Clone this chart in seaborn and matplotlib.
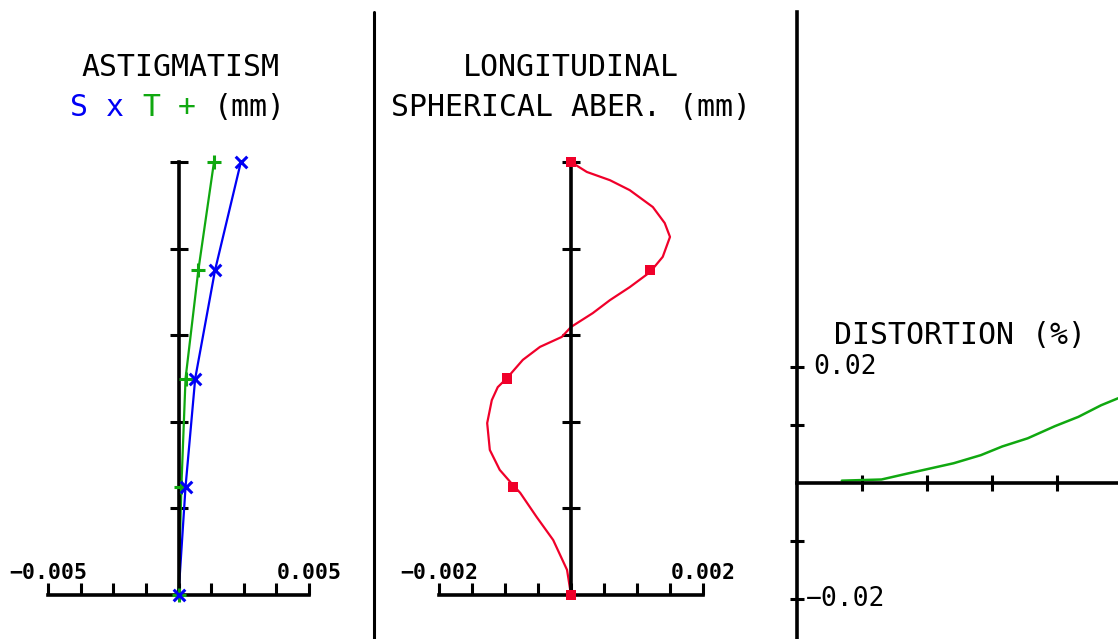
"""
Zemax style field curves: astigmatism, longitudinal spherical aberration, distortion
"""

import numpy as np
import matplotlib
matplotlib.use('Agg')
import matplotlib.pyplot as plt
from matplotlib.lines import Line2D
import seaborn as sns

W, H = 1118, 639

# Astigmatism: relative field vs focus shift (mm)
astig_field = [0.0, 0.25, 0.5, 0.75, 1.0]
astig_s = [0.0, 0.00027, 0.00064, 0.00140, 0.00239]
astig_t = [0.0, 0.00011, 0.00027, 0.00076, 0.00136]
astig_ticklabels = ['\u22120.005', '0.005']

# Longitudinal spherical aberration: relative pupil vs focus shift (mm)
sph_pupil = [0.0, 0.058, 0.127, 0.18, 0.236, 0.254, 0.289, 0.335, 0.397, 0.45,
             0.48, 0.501, 0.543, 0.573, 0.596, 0.619, 0.651, 0.681, 0.711,
             0.746, 0.781, 0.827, 0.859, 0.896, 0.935, 0.958, 0.977, 1.0]
sph_lsa = [0.0, -0.00006, -0.00027, -0.00052, -0.00077, -0.00088, -0.00108,
           -0.00123, -0.00127, -0.00120, -0.00111, -0.00097, -0.00073,
           -0.00047, -0.00014, 0.0, 0.00033, 0.00059, 0.00089, 0.00120,
           0.00139, 0.00150, 0.00142, 0.00124, 0.00089, 0.00059, 0.00024, 0.0]
sph_mark_pupil = [0.0, 0.25, 0.5, 0.75, 1.0]
sph_mark_lsa = [0.0, -0.00088, -0.00097, 0.00120, 0.0]
sph_ticklabels = ['\u22120.002', '0.002']

# Distortion (%) vs field
dist_field = [0.69, 1.30, 1.69, 2.05, 2.41, 2.83, 3.16, 3.55, 3.97, 4.33, 4.68, 4.94]
dist_pct = [0.0004, 0.0006, 0.0016, 0.0025, 0.0034, 0.0048, 0.0063, 0.0077,
            0.0098, 0.0114, 0.0134, 0.0146]
dist_ticklabels = ['0.02', '\u22120.02']

BLUE = '#0000f5'
GREEN = '#10a810'
RED = '#f0002a'
AX_LW = 2.6

sns.set_theme(style='white')
plt.rcParams['font.family'] = ['DejaVu Sans Mono', 'DejaVu Sans']
plt.rcParams['text.color'] = 'black'


def px_axes(fig, x0, y0, x1, y1):
    return fig.add_axes([x0 / W, 1 - y1 / H, (x1 - x0) / W, (y1 - y0) / H])


def px_text(fig, x, y, s, color='black', ha='center', size=21.5):
    fig.text(x / W, 1 - y / H, s, color=color, ha=ha, va='center', fontsize=size)


def style_aber_axes(ax, half, labels):
    ax.set_xlim(-half, half)
    ax.set_ylim(0, 1)
    for s in ['top', 'right']:
        ax.spines[s].set_visible(False)
    ax.spines['left'].set_position(('data', 0))
    for s in ['left', 'bottom']:
        ax.spines[s].set_linewidth(AX_LW)
        ax.spines[s].set_color('black')
    ax.set_xticks(np.linspace(-half, half, 9))
    ax.set_yticks([0.2, 0.4, 0.6, 0.8, 1.0])
    ax.tick_params(axis='y', direction='inout', length=13, width=2.2,
                   color='black', labelleft=False, left=True)
    ax.tick_params(axis='x', direction='in', length=9, width=2.2,
                   color='black', labelbottom=False, bottom=True)
    ax.set_xlabel('')
    ax.set_ylabel('')
    ax.patch.set_alpha(0)
    for x, lab in zip([-half, half], labels):
        ax.annotate(lab, xy=(x, 0), xytext=(0, 22), textcoords='offset pixels',
                    ha='center', va='center', fontsize=15.5, fontweight='bold')


fig = plt.figure(figsize=(W / 100, H / 100), dpi=100)

# Astigmatism
ax1 = px_axes(fig, 48, 162, 309, 595)
sns.lineplot(x=astig_t, y=astig_field, orient='y', estimator=None, ax=ax1,
             color=GREEN, lw=1.6, clip_on=False)
sns.lineplot(x=astig_s, y=astig_field, orient='y', estimator=None, ax=ax1,
             color=BLUE, lw=1.6, clip_on=False)
sns.scatterplot(x=astig_t, y=astig_field, marker='+', s=110, color=GREEN,
                linewidth=2.2, ax=ax1, clip_on=False, zorder=4)
sns.scatterplot(x=astig_s, y=astig_field, marker='x', s=70, color=BLUE,
                linewidth=2.2, ax=ax1, clip_on=False, zorder=4)
style_aber_axes(ax1, 0.005, astig_ticklabels)

# Longitudinal spherical aberration
ax2 = px_axes(fig, 439, 162, 703, 595)
sns.lineplot(x=sph_lsa, y=sph_pupil, orient='y', estimator=None, ax=ax2,
             color=RED, lw=1.6, clip_on=False)
sns.scatterplot(x=sph_mark_lsa, y=sph_mark_pupil, marker='s', s=55, color=RED,
                edgecolor='none', ax=ax2, clip_on=False, zorder=4)
style_aber_axes(ax2, 0.002, sph_ticklabels)

# Distortion
ax3 = px_axes(fig, 797, 12, 1118, 639)
sns.lineplot(x=dist_field, y=dist_pct, estimator=None, ax=ax3,
             color=GREEN, lw=1.8, clip_on=False)
ax3.set_xlim(0, 4.94)
ax3.set_ylim(-0.0269, 0.0812)
for s in ['top', 'right']:
    ax3.spines[s].set_visible(False)
ax3.spines['bottom'].set_position(('data', 0))
for s in ['left', 'bottom']:
    ax3.spines[s].set_linewidth(AX_LW)
    ax3.spines[s].set_color('black')
ax3.set_xticks([1, 2, 3, 4])
ax3.set_yticks([-0.02, -0.01, 0.01, 0.02])
ax3.tick_params(axis='x', direction='inout', length=12, width=2.2,
                color='black', labelbottom=False, bottom=True)
ax3.tick_params(axis='y', direction='inout', length=10, width=2.2,
                color='black', labelleft=False, left=True)
ax3.set_xlabel('')
ax3.set_ylabel('')
ax3.patch.set_alpha(0)
ax3.annotate(dist_ticklabels[0], xy=(0, 0.02), xytext=(16, 0),
             textcoords='offset pixels', ha='left', va='center', fontsize=19)
ax3.annotate(dist_ticklabels[1], xy=(0, -0.02), xytext=(9, 0),
             textcoords='offset pixels', ha='left', va='center', fontsize=19)

# panel separator
fig.add_artist(Line2D([374 / W, 374 / W], [1 - 12 / H, 0], transform=fig.transFigure,
                      color='black', lw=2.2))

# titles
adv = 0.602 * 21.5 * 100 / 72
px_text(fig, 180, 67, 'ASTIGMATISM')
for s, col, idx in [('S', BLUE, 0), ('x', BLUE, 2), ('T', GREEN, 4),
                    ('+', GREEN, 6), ('(mm)', 'black', 8)]:
    px_text(fig, 70 + idx * adv, 108, s, color=col, ha='left')
px_text(fig, 571, 67, 'LONGITUDINAL')
px_text(fig, 571, 108, 'SPHERICAL ABER. (mm)')
px_text(fig, 960, 335, 'DISTORTION (%)')

fig.savefig('out.png', dpi=100)
plt.close(fig)
